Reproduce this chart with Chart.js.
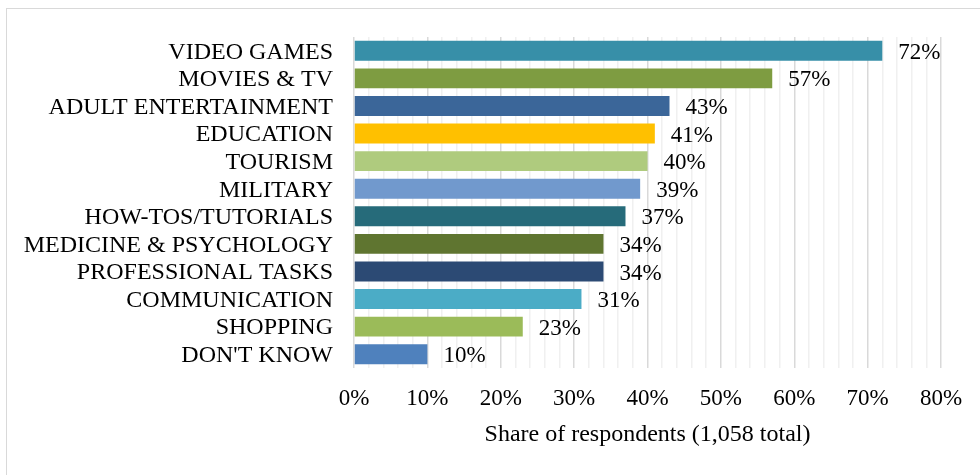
<!DOCTYPE html>
<html>
<head>
    <meta charset="utf-8">
    <title>VR content interest</title>
    <style>
        body {
            margin: 0;
            background: #ffffff;
        }
        .wrap {
            position: relative;
            width: 980px;
            height: 475px;
            overflow: hidden;
        }
        .frame {
            position: absolute;
            left: 6px;
            top: 8px;
            width: 1000px;
            height: 500px;
            border-left: 1.5px solid #d9d9d9;
            border-top: 1.5px solid #d9d9d9;
        }
        canvas {
            position: absolute;
            left: 0;
            top: 0;
        }
    </style>
    <script src="https://cdn.jsdelivr.net/npm/chart.js@4.4.1/dist/chart.umd.min.js"></script>
</head>
<body>
    <div class="wrap">
        <div class="frame"></div>
        <canvas id="vrChart" width="980" height="475"></canvas>
    </div>
    <script>
        const categories = ['VIDEO GAMES', 'MOVIES & TV', 'ADULT ENTERTAINMENT', 'EDUCATION', 'TOURISM', 'MILITARY',
            'HOW-TOS/TUTORIALS', 'MEDICINE & PSYCHOLOGY', 'PROFESSIONAL TASKS', 'COMMUNICATION', 'SHOPPING', "DON'T KNOW"];
        const shares = [72, 57, 43, 41, 40, 39, 37, 34, 34, 31, 23, 10];
        const barColors = ['#378fa8', '#7e9c41', '#3b6699', '#ffc000', '#afcb7e', '#7199cd',
            '#266b7a', '#5f7530', '#2c4a74', '#4bacc6', '#9bbb59', '#4f81bd'];
        const axisMin = 0;
        const axisMax = 80;
        const axisTitle = 'Share of respondents (1,058 total)';

        const serif = "'Liberation Serif', 'Times New Roman', serif";
        const textSize = 24;
        const numberSize = 23;

        // value labels just past the end of each bar
        const valueLabels = {
            id: 'valueLabels',
            afterDatasetsDraw(chart) {
                const ctx = chart.ctx;
                const meta = chart.getDatasetMeta(0);
                ctx.save();
                ctx.font = numberSize + 'px ' + serif;
                ctx.fillStyle = '#000000';
                ctx.textAlign = 'left';
                ctx.textBaseline = 'middle';
                meta.data.forEach((bar, i) => {
                    ctx.fillText(shares[i] + '%', bar.x + 16, bar.y + 2);
                });
                ctx.restore();
            }
        };

        const ctx = document.getElementById('vrChart').getContext('2d');
        new Chart(ctx, {
            type: 'bar',
            data: {
                labels: categories,
                datasets: [{
                    data: shares,
                    backgroundColor: barColors,
                    borderWidth: 0,
                    barPercentage: 0.72,
                    categoryPercentage: 1.0
                }]
            },
            options: {
                indexAxis: 'y',
                responsive: false,
                animation: false,
                layout: {
                    padding: { left: 0, right: 39, top: 37, bottom: 0 }
                },
                plugins: {
                    legend: { display: false },
                    tooltip: { enabled: false }
                },
                scales: {
                    x: {
                        min: axisMin,
                        max: axisMax,
                        border: { display: false },
                        grid: {
                            drawTicks: false,
                            lineWidth: 1.5,
                            color: c => (c.tick && c.tick.value % 10 === 0) ? '#d9d9d9' : '#f0f0f0'
                        },
                        ticks: {
                            stepSize: 2,
                            autoSkip: false,
                            maxRotation: 0,
                            padding: 17,
                            color: '#000000',
                            font: { family: serif, size: numberSize },
                            callback: v => (v % 10 === 0 ? v + '%' : '')
                        },
                        title: {
                            display: true,
                            text: axisTitle,
                            color: '#000000',
                            font: { family: serif, size: textSize },
                            padding: { top: 4, bottom: 26 }
                        },
                        afterFit: scale => { scale.height = 107; }
                    },
                    y: {
                        border: { display: false },
                        grid: { display: false, drawTicks: false },
                        ticks: {
                            autoSkip: false,
                            padding: 21,
                            labelOffset: 1.5,
                            color: '#000000',
                            font: { family: serif, size: textSize }
                        },
                        afterFit: scale => { scale.width = 354; }
                    }
                }
            },
            plugins: [valueLabels]
        });
    </script>
</body>
</html>
